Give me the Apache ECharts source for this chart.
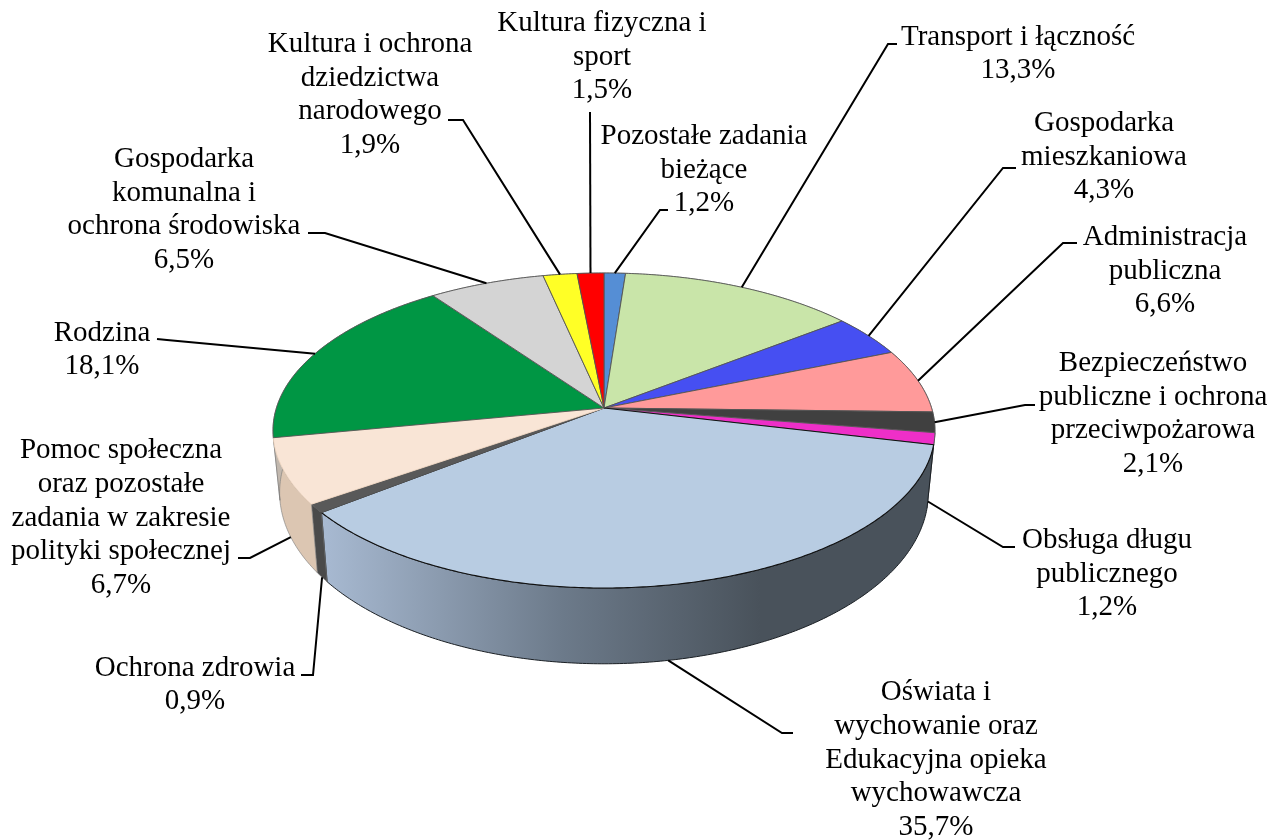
<!DOCTYPE html>
<html><head><meta charset="utf-8">
<style>html,body{margin:0;padding:0;background:#fff}#c{width:1282px;height:840px}</style>
<script src="https://cdn.jsdelivr.net/npm/echarts@6/dist/echarts.min.js"></script>
</head><body><div id="c"></div>
<script>
// ---- data ----
const labels = ["Pozostałe zadania\nbieżące","Transport i łączność","Gospodarka\nmieszkaniowa","Administracja\npubliczna","Bezpieczeństwo\npubliczne i ochrona\nprzeciwpożarowa","Obsługa długu\npublicznego","Oświata i\nwychowanie oraz\nEdukacyjna opieka\nwychowawcza","Ochrona zdrowia","Pomoc społeczna\noraz pozostałe\nzadania w zakresie\npolityki społecznej","Rodzina","Gospodarka\nkomunalna i\nochrona środowiska","Kultura i ochrona\ndziedzictwa\nnarodowego","Kultura fizyczna i\nsport"];
const values = [1.2,13.3,4.3,6.6,2.1,1.2,35.7,0.9,6.7,18.1,6.5,1.9,1.5];
// ---- styles and layout (separate from the data) ----
const topColors = ["#558ed5","#c9e5a9","#464ff2","#ff9a9a","#404040","#ee2fc8","#b8cce2","#595959","#f9e5d6","#009644","#d4d4d4","#ffff26","#ff0000"];
const wallColors = ["#3c6496","#8da079","#3138a9","#b36c6c","#2d2d2d","#7a8088","#000","#4a4a4a","#dcc6b2","#c2b8ae","#959595","#b3b31b","#b30000"];
const labelPos = [[704,170],[1018,54],[1104,157],[1165,271],[1153,414],[1107,574],[936,760],[195,685],[121,518],[102,350],[184,210],[370,95],[602,57]];
const leaderBends = [[[660,210],[668,210]],[[888,44],[897,44]],[[1003,168],[1016,168]],[[1063,243],[1077,243]],[[1025,405],[1035,405]],[[1003,547],[1015,547]],[[782,733],[793,733]],[[313,675],[301,675]],[[250,558],[238,558]],[[167,340],[157,339]],[[325,233],[308,233]],[[463,120],[448,120]],[[590,112]]];
const leaderOnBase = [0,0,0,0,0,1,1,1,1,0,0,0,0];
const leaderShift = [0,0,0,0,0,0,0.7,0,0,0,0,0,0];

const CX=604, CY=408, A=154.3, B=327.6, P=1/7;
const total = values.reduce((a,b)=>a+b,0);
const starts = []; values.reduce((s,v,i)=>(starts[i]=s,s+v),0);
function ang(pct){return pct/total*2*Math.PI;}
function topPt(t){const u=Math.sin(t),v=-Math.cos(t),w=1-P*v;return [CX+B*u/w,CY+A*v/w];}
function basePt(t){const p=topPt(t);return [CX+(p[0]-CX)*0.98,p[1]*1.087+24.6];}
function arc(i,fn){const a=ang(starts[i]),b=ang(starts[i]+values[i]),n=Math.max(2,Math.ceil((b-a)/0.01)),r=[];for(let k=0;k<=n;k++)r.push(fn(a+(b-a)*k/n));return r;}
const wallFrontGradient=new echarts.graphic.LinearGradient(322,0,760,0,[{offset:0,color:"#a8bad2"},{offset:0.55,color:"#6c7a8a"},{offset:1,color:"#49525b"}],true);
const pct=v=>v.toFixed(1).replace(".",",")+"%";

function wallItem(p){const i=p.dataIndex;
  const pts=arc(i,topPt).concat(arc(i,basePt).reverse());
  const blue=i===6;
  return {type:"polygon",shape:{points:pts},style:{fill:blue?wallFrontGradient:wallColors[i],stroke:blue?"#1a1f24":"#777",lineWidth:blue?1:0.6}};
}
function topItem(p){const i=p.dataIndex;
  const pts=[[CX,CY]].concat(arc(i,topPt));
  const blue=i===6;
  return {type:"polygon",shape:{points:pts},style:{fill:topColors[i],stroke:blue?"#111":(i===8?"#f3d9c4":"#555"),lineWidth:blue?1.1:0.9}};
}
function leaderItem(p){const i=p.dataIndex;
  const t=ang(starts[i]+values[i]/2+leaderShift[i]);
  const s=leaderOnBase[i]?basePt(t):topPt(t);
  return {type:"polyline",shape:{points:[s].concat(leaderBends[i])},style:{fill:null,stroke:"#000",lineWidth:2}};
}
function labelItem(p){const i=p.dataIndex;
  return {type:"text",x:labelPos[i][0],y:labelPos[i][1],style:{text:labels[i]+"\n"+pct(values[i]),fill:"#000",font:'29px "Liberation Serif"',lineHeight:33.6,align:"center",verticalAlign:"middle"}};
}
const seriesData=values.map((v,i)=>({name:labels[i],value:v}));
const layer=(fn,z)=>({type:"custom",coordinateSystem:"none",renderItem:fn,data:seriesData,z:z,silent:true,animation:false,clip:false});
const chart=echarts.init(document.getElementById("c"),null,{renderer:"canvas"});
chart.setOption({backgroundColor:"#fff",animation:false,series:[layer(wallItem,1),layer(topItem,2),layer(leaderItem,3),layer(labelItem,4)]});
</script></body></html>
